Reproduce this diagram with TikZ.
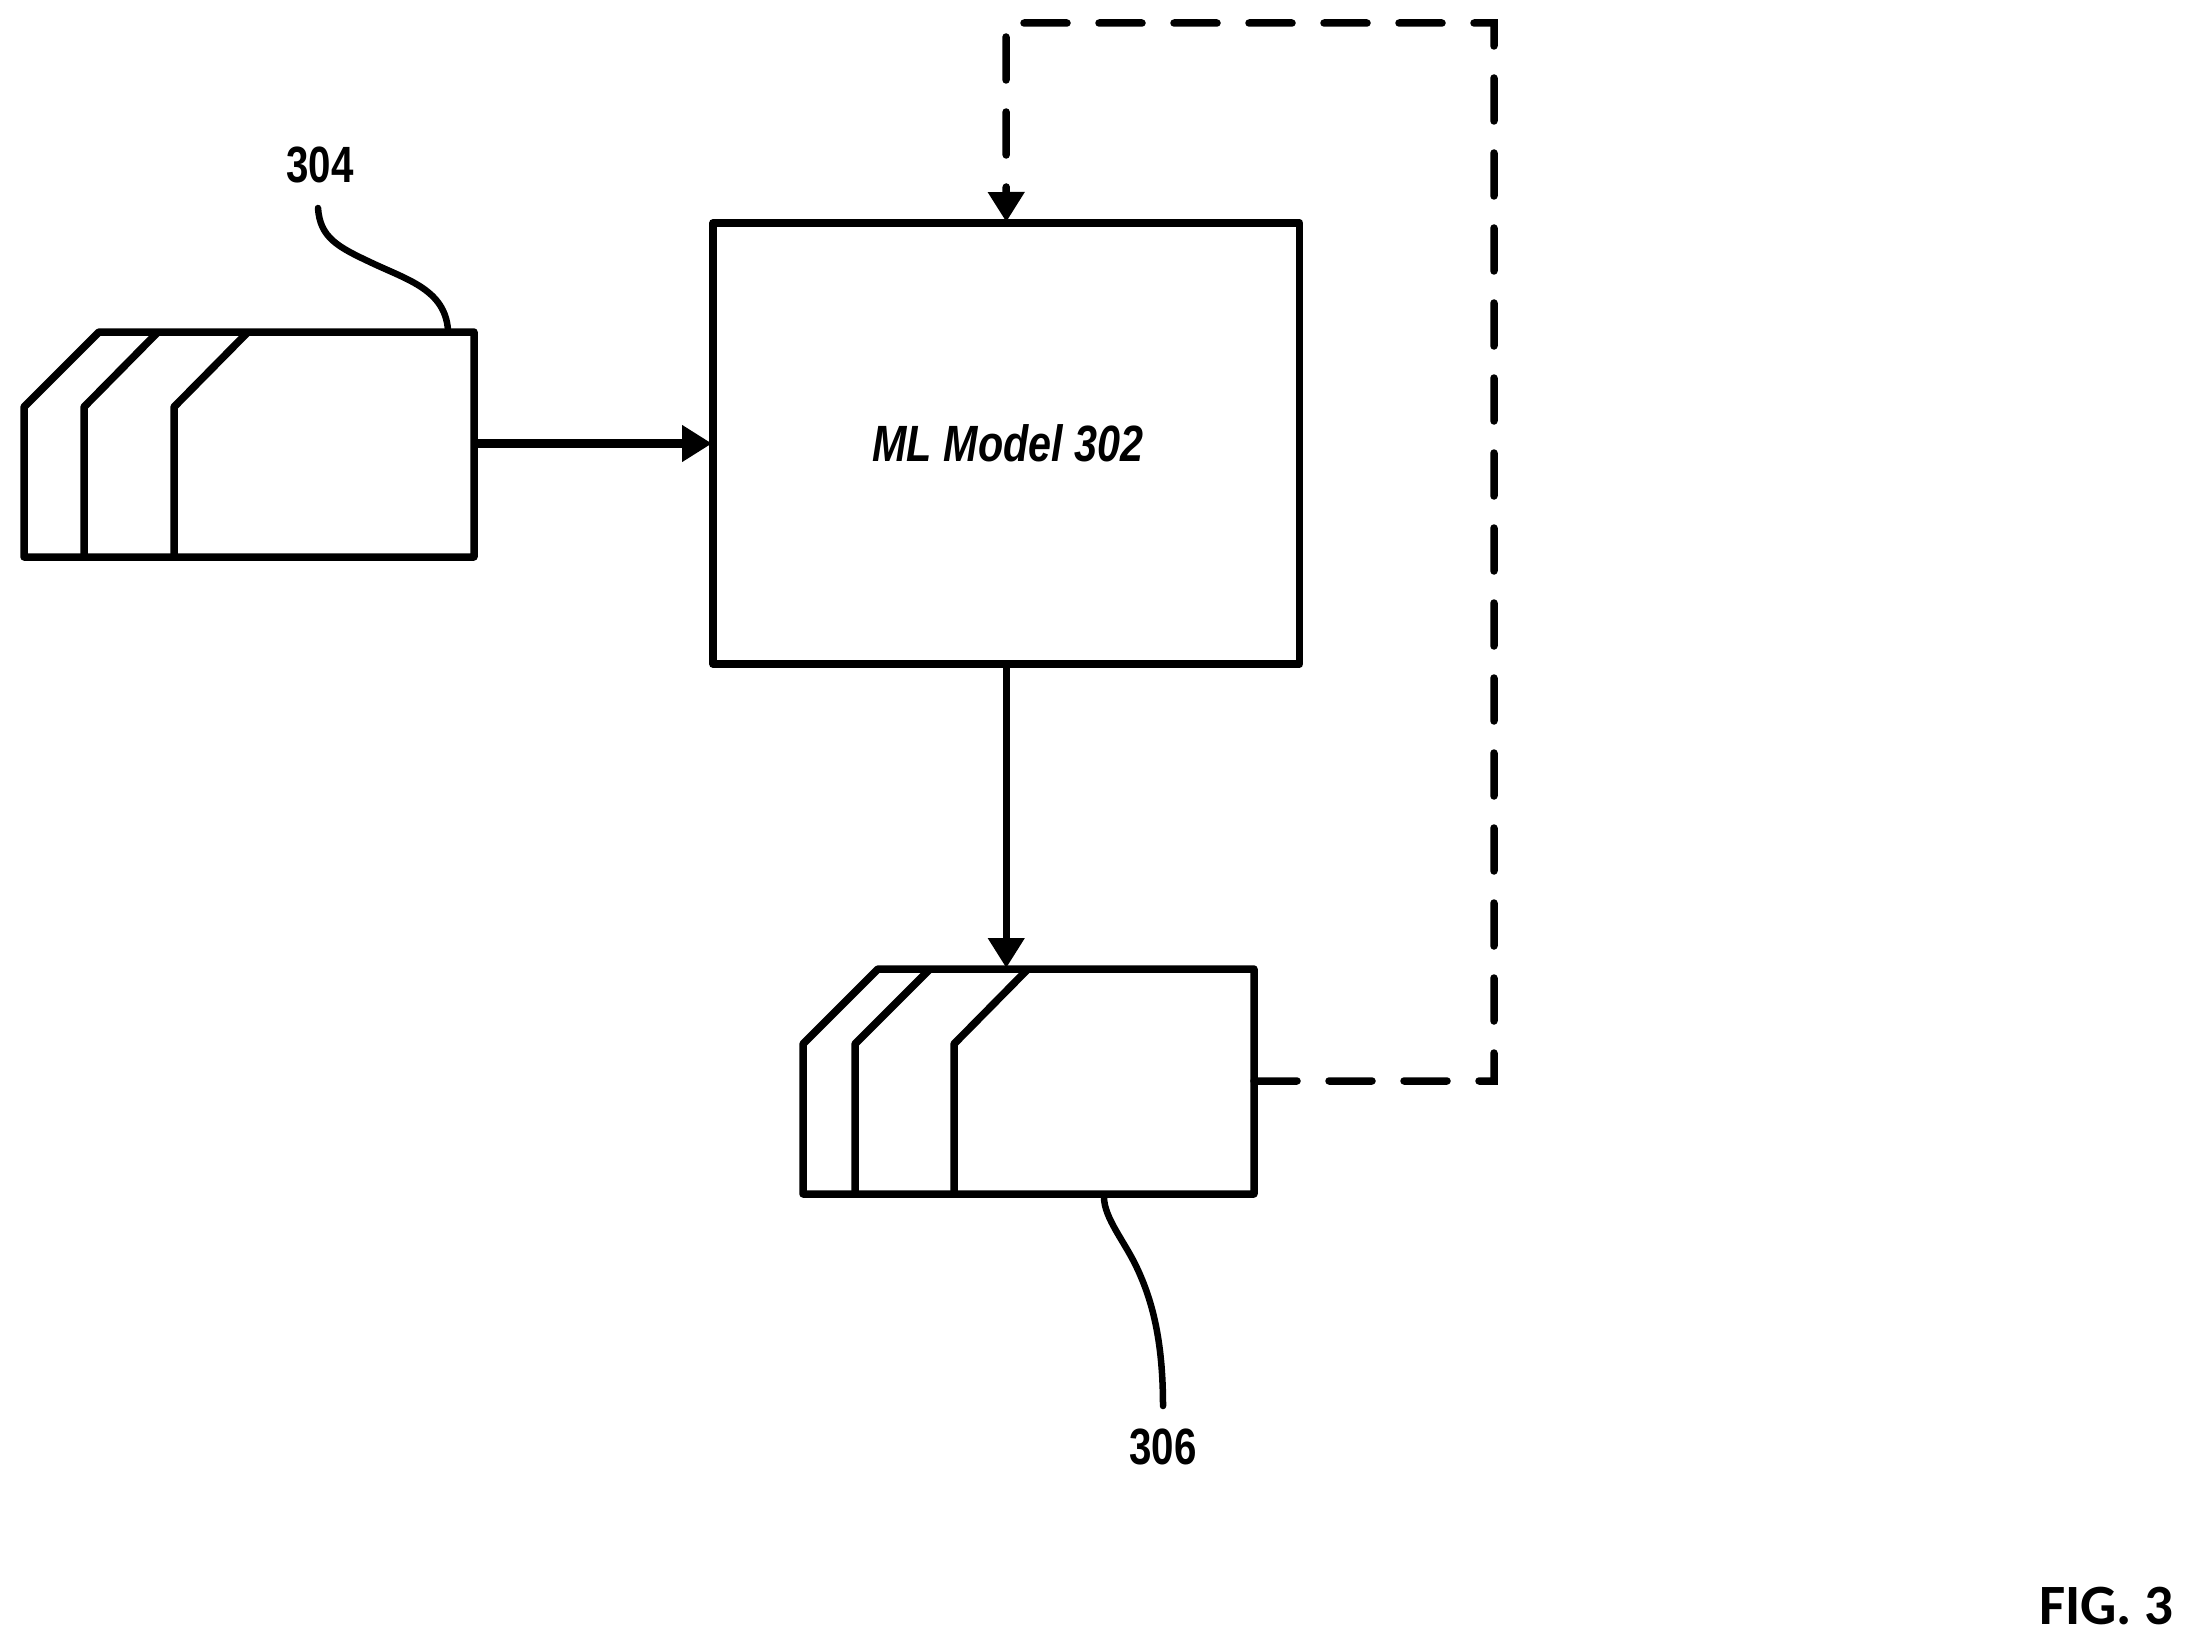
\documentclass[tikz,border=0pt]{standalone}
\usepackage{fontspec}
\usetikzlibrary{arrows.meta}
\newfontfamily\lblfont[FakeStretch=0.79]{Liberation Sans}
\newfontfamily\mdlfont[FakeStretch=0.81]{Liberation Sans}
\newfontfamily\figfont{Carlito}
\tikzset{
  ln/.style={draw=black,line width=7.5pt,line join=round},
  heavyln/.style={ln,line width=8.5pt},
  leader/.style={draw=black,line width=6.5pt,line cap=round},
  solidbox/.style={ln,rectangle,inner sep=0pt,outer sep=0pt,fill=white},
  framebox/.style={rectangle,inner sep=0pt,outer sep=0pt},
  head/.style={-{Triangle[length=30pt,width=35pt]},shorten >=1pt},
  dashedconn/.style={draw=black,line width=7.5pt,line cap=round,line join=miter,dash pattern=on 43pt off 32pt},
  reflabel/.style={font=\lblfont\bfseries\fontsize{51}{55}\selectfont,inner sep=0pt},
  modellabel/.style={font=\mdlfont\bfseries\itshape\fontsize{51}{55}\selectfont,inner sep=0pt},
  figlabel/.style={font=\figfont\bfseries\fontsize{57}{60}\selectfont,inner sep=0pt}
}
\begin{document}
\begin{tikzpicture}[x=1pt,y=-1pt]
\useasboundingbox (0,0) rectangle (2192,1645);
% ML model
\node[solidbox,minimum width=586.5pt,minimum height=441pt] (ml) at (1006.25,443.5) {};
\node[modellabel] (mltext) at (1008,443) {ML Model 302};
% input data block
\node[framebox,minimum width=450pt,minimum height=225pt] (inp) at (249,444.5) {};
\draw[ln] (inp.south west) -- (24,407) -- (99,332) -- (inp.north east) -- (inp.south east) -- cycle;
\draw[ln] (84,557) -- (84,407) -- (158,332);
\draw[ln] (174,557) -- (174,407) -- (248,332);
% output data block
\node[framebox,minimum width=451pt,minimum height=225pt] (out) at (1028.5,1081.5) {};
\draw[ln] (out.south west) -- (803,1044) -- (878,969) -- (out.north east) -- (out.south east) -- cycle;
\draw[ln] (855,1194) -- (855,1044) -- (930,969);
\draw[ln] (954,1194) -- (954,1044) -- (1028,969);
% connectors
\draw[heavyln,head] (inp.east |- ml.west) -- (ml.west);
\draw[ln,head] (ml.south) -- (ml.south |- out.north);
\coordinate (c1) at (1494,1081);
\coordinate (c2) at (1494,23);
\coordinate (c3) at (1006,23);
\draw[dashedconn,head] (out.east |- c1) -- (c1) -- (c2) -- (c3) -- (ml.north);
% reference labels and leaders
\node[reflabel] (r304) at (320,165) {304};
\coordinate (s304) at (318,208);
\draw[leader] (s304) .. controls (320,238) and (338,247) .. (372,263) .. controls (408,280) and (445,290) .. (448,330);
\node[reflabel] (r306) at (1163,1447) {306};
\coordinate (s306) at (1163,1406);
\draw[leader] (1104,1197) .. controls (1104,1218) and (1125,1242) .. (1137,1268) .. controls (1152,1300) and (1163,1340) .. (s306);
\node[figlabel,anchor=east] (fig) at (2174,1606) {FIG. 3};
\end{tikzpicture}
\end{document}
